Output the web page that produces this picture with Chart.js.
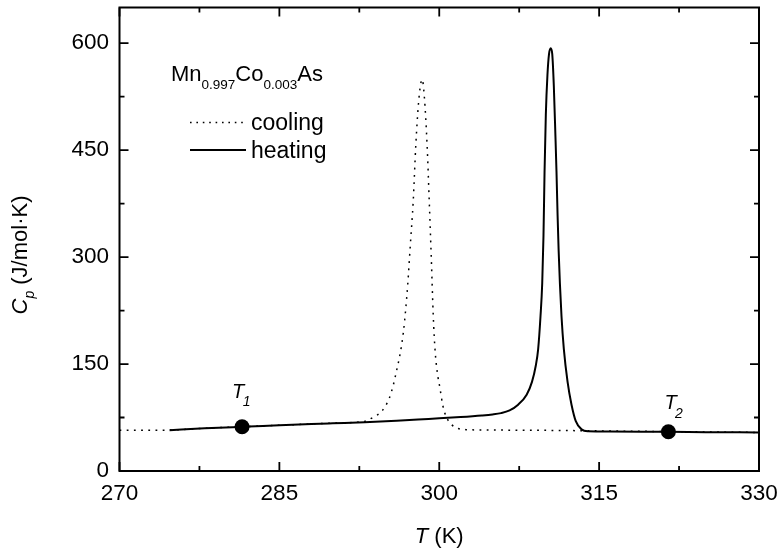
<!DOCTYPE html>
<html>
<head>
<meta charset="utf-8">
<script src="https://cdn.jsdelivr.net/npm/chart.js@4.4.1/dist/chart.umd.min.js"></script>
<style>
  html, body { margin: 0; padding: 0; background: #fff; }
</style>
</head>
<body>
<canvas id="chart" width="780" height="551"></canvas>
<script>
// ---- data ----
const X_TICKS = [270, 285, 300, 315, 330];
const Y_TICKS = [0, 150, 300, 450, 600];

// heating run (solid)
const heatT  = [274.7, 278, 281.5, 285, 288, 290, 293, 296, 299, 302, 304, 305, 305.8, 306.6, 307.4,
                308.2, 308.7, 309.06, 309.28, 309.5, 309.66, 309.78, 309.88, 310.0, 310.15, 310.3, 310.46,
                310.6, 310.75, 310.9, 311.0, 311.1, 311.2, 311.32, 311.47, 311.69, 312.04, 312.41, 312.81,
                313.35, 313.97, 316, 319, 321.5, 325, 330];
const heatCp = [57.3, 59.8, 62, 64, 65.8, 66.8, 68.2, 70.4, 73, 75.6, 77.8, 79.3, 81.2, 85, 93,
                107, 125, 148, 171, 217, 263, 330, 420, 500, 555, 585, 593,
                585, 540, 470, 420, 360, 310, 263, 217, 171, 125, 93, 70,
                58.4, 55.8, 55.4, 55.2, 55, 54.5, 54];

// cooling run (dotted)
const coolT  = [270, 272, 274.7, 278, 281.5, 285, 288, 290.5, 292.3, 293.04, 293.8, 294.6, 295.31, 295.69,
                296.0, 296.3, 296.63, 296.85, 297.04, 297.3, 297.56, 297.8, 298.05, 298.25, 298.4, 298.6,
                298.86, 299.06, 299.25, 299.44, 299.6, 299.81, 300.07, 300.32, 300.63, 301.16, 301.78, 302.5,
                305, 310, 314, 320, 325, 330];
const coolCp = [57, 57, 57.4, 59.9, 62.1, 64.1, 66, 67.3, 68.4, 69.8, 75.4, 83.7, 102, 120.6,
                141, 162, 194, 226.5, 261, 320, 379, 457, 515, 542, 549, 525,
                457, 379, 300, 217, 171, 139, 116, 93, 77, 65, 59.7, 58,
                57.4, 57, 56.4, 55.5, 54.8, 54];

// marked temperatures T1, T2
const markT   = [281.5, 321.5];
const markCp  = [62, 55];
const markSub = ["1", "2"];

// ------------------------------------------------------------

const FONT = "'Liberation Sans', Arial, sans-serif";

function toPoints(xs, ys) {
  return xs.map((x, i) => ({ x, y: ys[i] }));
}

// frame, inward ticks, tick labels, legend text, annotations
const decorPlugin = {
  id: "decor",
  afterDraw(chart) {
    const ctx = chart.ctx;
    const { left, right, top, bottom } = chart.chartArea;
    const xs = chart.scales.x, ys = chart.scales.y;

    ctx.save();
    ctx.strokeStyle = "#000";
    ctx.fillStyle = "#000";
    ctx.lineWidth = 2;
    ctx.strokeRect(left, top, right - left, bottom - top);

    // ticks on all four sides
    ctx.lineWidth = 1.8;
    ctx.beginPath();
    for (let v = xs.min; v <= xs.max + 1e-6; v += 7.5) {
      const px = xs.getPixelForValue(v);
      const len = X_TICKS.includes(v) ? 9 : 5;
      ctx.moveTo(px, bottom); ctx.lineTo(px, bottom - len);
      ctx.moveTo(px, top); ctx.lineTo(px, top + len);
    }
    for (let v = 0; v <= ys.max + 1e-6; v += 75) {
      const py = ys.getPixelForValue(v);
      const len = Y_TICKS.includes(v) ? 9 : 5;
      ctx.moveTo(left, py); ctx.lineTo(left + len, py);
      ctx.moveTo(right, py); ctx.lineTo(right - len, py);
    }
    ctx.stroke();

    // tick labels
    ctx.font = `22.5px ${FONT}`;
    ctx.textAlign = "right";
    ctx.textBaseline = "middle";
    for (const v of Y_TICKS) ctx.fillText(String(v), left - 10.5, ys.getPixelForValue(v));
    ctx.textAlign = "center";
    ctx.textBaseline = "alphabetic";
    for (const v of X_TICKS) ctx.fillText(String(v), xs.getPixelForValue(v), bottom + 28.5);

    ctx.textAlign = "left";

    // compound name
    let x = 171;
    const parts = [["Mn", 0], ["0.997", 1], ["Co", 0], ["0.003", 1], ["As", 0]];
    for (const [t, sub] of parts) {
      ctx.font = sub ? `13.5px ${FONT}` : `22px ${FONT}`;
      ctx.fillText(t, x, sub ? 89 : 81);
      x += ctx.measureText(t).width;
    }

    // legend
    ctx.lineWidth = 1.5;
    ctx.setLineDash([1.6, 4.8]);
    ctx.beginPath(); ctx.moveTo(190, 122.5); ctx.lineTo(246, 122.5); ctx.stroke();
    ctx.setLineDash([]);
    ctx.lineWidth = 2;
    ctx.beginPath(); ctx.moveTo(190, 150); ctx.lineTo(246, 150); ctx.stroke();
    ctx.font = `23px ${FONT}`;
    ctx.fillText("cooling", 251, 130);
    ctx.fillText("heating", 251, 157.5);

    // T1 / T2 labels
    const offs = [[-10, -29], [-4, -22.5]];
    markT.forEach((t, i) => {
      const px = xs.getPixelForValue(t) + offs[i][0];
      const py = ys.getPixelForValue(markCp[i]) + offs[i][1];
      ctx.font = `italic 20px ${FONT}`;
      ctx.fillText("T", px, py);
      const w = ctx.measureText("T").width;
      ctx.font = `italic 14px ${FONT}`;
      ctx.fillText(markSub[i], px + w - 1.5, py + 8.5);
    });

    // x title
    ctx.font = `italic 22px ${FONT}`;
    const wT = ctx.measureText("T").width;
    ctx.font = `22px ${FONT}`;
    const wK = ctx.measureText(" (K)").width;
    const tx = (left + right) / 2 - (wT + wK) / 2;
    ctx.font = `italic 22px ${FONT}`;
    ctx.fillText("T", tx, 543);
    ctx.font = `22px ${FONT}`;
    ctx.fillText(" (K)", tx + wT, 543);

    // y title
    ctx.translate(27, 255);
    ctx.rotate(-Math.PI / 2);
    ctx.font = `italic 22px ${FONT}`;
    const wC = ctx.measureText("C").width;
    ctx.font = `italic 14px ${FONT}`;
    const wp = ctx.measureText("p").width;
    ctx.font = `22px ${FONT}`;
    const wu = ctx.measureText(" (J/mol\u00B7K)").width;
    const yx = -(wC + wp + wu) / 2;
    ctx.font = `italic 22px ${FONT}`;
    ctx.fillText("C", yx, 0);
    ctx.font = `italic 14px ${FONT}`;
    ctx.fillText("p", yx + wC, 7);
    ctx.font = `22px ${FONT}`;
    ctx.fillText(" (J/mol\u00B7K)", yx + wC + wp, 0);

    ctx.restore();
  }
};

new Chart(document.getElementById("chart"), {
  type: "scatter",
  data: {
    datasets: [
      {
        label: "cooling",
        data: toPoints(coolT, coolCp),
        showLine: true,
        borderColor: "#000",
        borderWidth: 1.5,
        borderDash: [1.8, 5.4],
        pointRadius: 0,
        cubicInterpolationMode: "monotone",
        order: 2
      },
      {
        label: "heating",
        data: toPoints(heatT, heatCp),
        showLine: true,
        borderColor: "#000",
        borderWidth: 2,
        pointRadius: 0,
        cubicInterpolationMode: "monotone",
        order: 1
      },
      {
        label: "marks",
        data: toPoints(markT, markCp),
        showLine: false,
        pointRadius: 7.5,
        pointBackgroundColor: "#000",
        pointBorderWidth: 0,
        order: 0
      }
    ]
  },
  options: {
    responsive: false,
    animation: false,
    layout: { padding: { top: 1, right: 21, left: 0, bottom: 0 } },
    plugins: { legend: { display: false }, tooltip: { enabled: false } },
    scales: {
      x: {
        type: "linear",
        min: 270, max: 330,
        grid: { display: false },
        border: { display: false },
        ticks: { display: false },
        afterBuildTicks: (s) => { s.ticks = X_TICKS.map(v => ({ value: v })); },
        afterFit: (s) => { s.height = 80; }
      },
      y: {
        type: "linear",
        min: 0, max: 650,
        grid: { display: false },
        border: { display: false },
        ticks: { display: false },
        afterBuildTicks: (s) => { s.ticks = Y_TICKS.map(v => ({ value: v })); },
        afterFit: (s) => { s.width = 119.5; }
      }
    }
  },
  plugins: [decorPlugin]
});
</script>
</body>
</html>
